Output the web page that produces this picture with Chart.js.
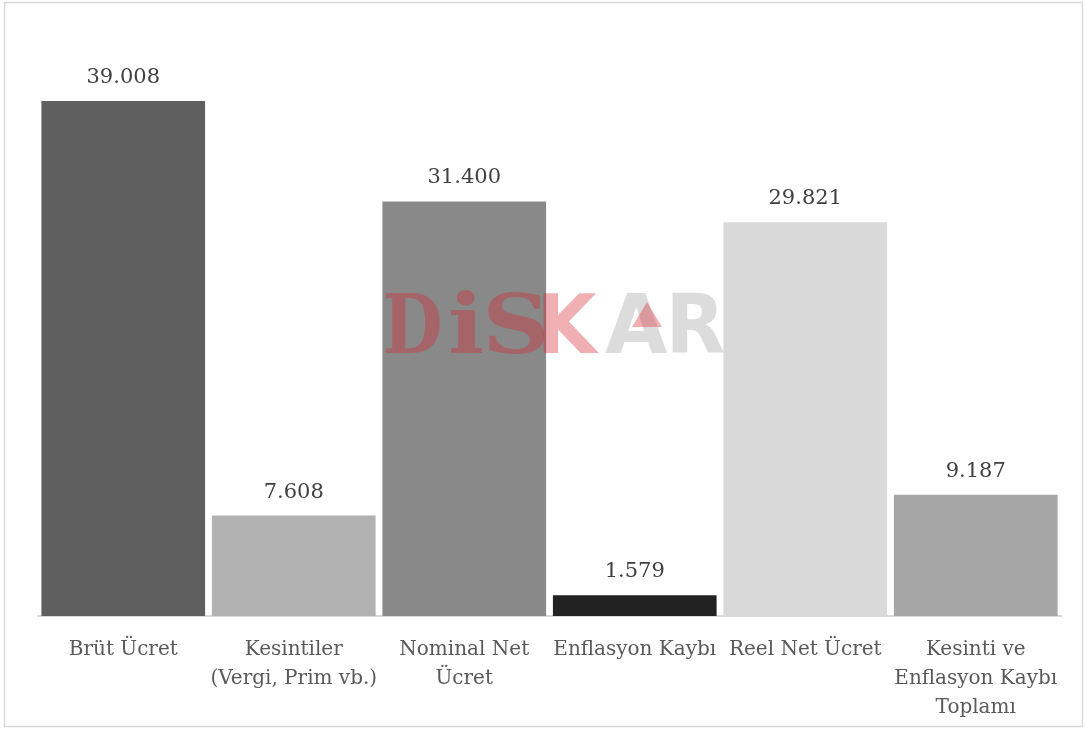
<!DOCTYPE html>
<html><head><meta charset="utf-8">
<script src="https://cdn.jsdelivr.net/npm/chart.js@4.4.1/dist/chart.umd.min.js"></script>
<style>html,body{margin:0;padding:0;background:#fff}#wrap{width:1085px;height:729px;position:relative}</style>
</head><body><div id="wrap"><canvas id="c" width="1085" height="729"></canvas></div>
<script>
const categories = [
  'Brüt Ücret',
  ['Kesintiler', '(Vergi, Prim vb.)'],
  ['Nominal Net', 'Ücret'],
  'Enflasyon Kaybı',
  'Reel Net Ücret',
  ['Kesinti ve', 'Enflasyon Kaybı', 'Toplamı']
];
const values = [39008, 7608, 31400, 1579, 29821, 9187];
const barColors = ['#5f5f5f', '#b2b2b2', '#898989', '#222222', '#d9d9d9', '#a6a6a6'];

const FONT = "'DejaVu Serif', serif";
function fmt(v){ return String(v).replace(/\B(?=(\d{3})+(?!\d))/g, '.'); }

const frame = {
  id: 'frame',
  beforeDraw(chart){
    const ctx = chart.ctx;
    ctx.save();
    ctx.fillStyle = '#fff';
    ctx.fillRect(0,0,chart.width,chart.height);
    ctx.strokeStyle = '#d9d9d9';
    ctx.lineWidth = 1.5;
    ctx.strokeRect(4.5, 2.5, 1078, 724);
    ctx.restore();
  }
};
const valueLabels = {
  id: 'valueLabels',
  afterDatasetsDraw(chart){
    const ctx = chart.ctx;
    const meta = chart.getDatasetMeta(0);
    ctx.save();
    ctx.font = "21px " + FONT;
    ctx.fillStyle = '#404040';
    ctx.textAlign = 'center';
    ctx.textBaseline = 'bottom';
    meta.data.forEach((bar, i) => {
      ctx.fillText(fmt(values[i]), bar.x, bar.y - 13);
    });
    ctx.restore();
  }
};
// watermark logo "DiSKAR" (decoration, not data)
function letter(ctx, ch, x, w, base, font){
  ctx.font = font;
  const m = ctx.measureText(ch);
  const lw = m.actualBoundingBoxRight + m.actualBoundingBoxLeft;
  const s = w / lw;
  ctx.save();
  ctx.translate(x, base);
  ctx.scale(s, 1);
  ctx.fillText(ch, m.actualBoundingBoxLeft, 0);
  ctx.restore();
}
const watermark = {
  id: 'watermark',
  afterDatasetsDraw(chart){
    const ctx = chart.ctx;
    ctx.save();
    ctx.textBaseline = 'alphabetic';
    ctx.textAlign = 'left';
    const base = 353;
    const serif = "bold 82px 'DejaVu Serif', serif";
    const sans = "bold 82px 'DejaVu Sans', sans-serif";
    const red = 'rgba(215,40,50,0.37)';
    ctx.fillStyle = red;
    letter(ctx, 'D', 385, 55, base, serif);
    letter(ctx, 'i', 450, 33, base, serif);
    letter(ctx, 'S', 488, 57, base, serif);
    letter(ctx, 'K', 543, 57, base, sans);
    ctx.fillStyle = 'rgba(150,150,150,0.33)';
    letter(ctx, 'A', 605, 63, base, sans);
    letter(ctx, 'R', 672, 52, base, sans);
    ctx.fillStyle = red;
    ctx.beginPath();
    ctx.moveTo(647, 302); ctx.lineTo(662, 327); ctx.lineTo(632, 327); ctx.closePath();
    ctx.fill();
    ctx.restore();
  }
};

new Chart(document.getElementById('c'), {
  type: 'bar',
  data: {
    labels: categories,
    datasets: [{
      data: values,
      backgroundColor: barColors,
      borderWidth: 0,
      barPercentage: 0.96,
      categoryPercentage: 1.0
    }]
  },
  options: {
    responsive: false,
    animation: false,
    events: [],
    layout: { padding: { left: 38, right: 24, top: 22, bottom: 0 } },
    plugins: { legend: { display: false }, tooltip: { enabled: false } },
    scales: {
      y: { display: false, min: 0, max: 45000 },
      x: {
        afterFit(scale){ scale.height = 113; },
        grid: { display: false, drawTicks: false },
        border: { display: true, color: '#d9d9d9', width: 2 },
        ticks: {
          maxRotation: 0, autoSkip: false, padding: 19,
          color: '#595959',
          font: { family: FONT, size: 20, lineHeight: 1.45 }
        }
      }
    }
  },
  plugins: [frame, valueLabels, watermark]
});
</script></body></html>
